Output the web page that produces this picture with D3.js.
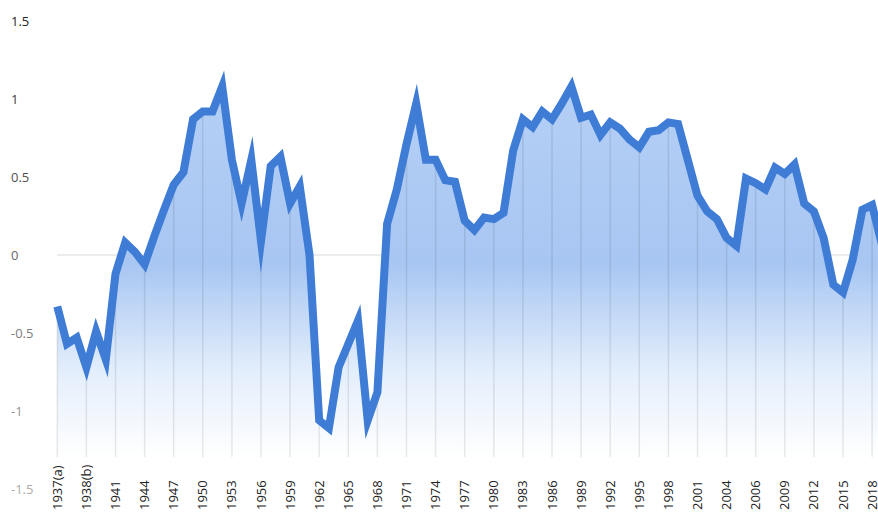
<!DOCTYPE html>
<html>
<head>
<meta charset="utf-8">
<script src="https://cdn.jsdelivr.net/npm/d3@7"></script>
<style>
  body { margin: 0; background: #fff; }
  svg { display: block; font-family: "Open Sans", sans-serif; }
</style>
</head>
<body>
<div class="canvas"></div>
<script>
// Data
const years = [
  '1937(a)', '1937(b)', '1938(a)', '1938(b)', '1939', '1940', '1941', '1942', '1943', '1944',
  '1945', '1946', '1947', '1948', '1949', '1950', '1951', '1952', '1953', '1954',
  '1955', '1956', '1957', '1958', '1959', '1960', '1961', '1962', '1963', '1964',
  '1965', '1966', '1967', '1968', '1969', '1970', '1971', '1972', '1973', '1974',
  '1975', '1976', '1977', '1978', '1979', '1980', '1981', '1982', '1983', '1984',
  '1985', '1986', '1987', '1988', '1989', '1990', '1991', '1992', '1993', '1994',
  '1995', '1996', '1997', '1998', '1999', '2000', '2001', '2002', '2003', '2004',
  '2005(a)', '2005(b)', '2006', '2007', '2008', '2009', '2010', '2011', '2012', '2013',
  '2014', '2015', '2016', '2017', '2018', '2019'
];
const values = [
  -0.33, -0.57, -0.53, -0.72, -0.49, -0.67, -0.12, 0.08, 0.02, -0.06,
  0.12, 0.29, 0.45, 0.53, 0.87, 0.92, 0.92, 1.08, 0.61, 0.33,
  0.61, 0.09, 0.57, 0.63, 0.33, 0.44, 0.0, -1.06, -1.11, -0.72,
  -0.57, -0.42, -1.06, -0.88, 0.2, 0.42, 0.71, 0.97, 0.61, 0.61,
  0.48, 0.47, 0.22, 0.16, 0.24, 0.23, 0.27, 0.67, 0.87, 0.82,
  0.92, 0.87, 0.97, 1.08, 0.88, 0.90, 0.77, 0.85, 0.81, 0.74,
  0.69, 0.79, 0.80, 0.85, 0.84, 0.61, 0.38, 0.28, 0.23, 0.11,
  0.06, 0.49, 0.46, 0.42, 0.56, 0.52, 0.58, 0.33, 0.28, 0.11,
  -0.19, -0.24, -0.03, 0.29, 0.32, 0.07
];
const yTicks = [1.5, 1, 0.5, 0, -0.5, -1, -1.5];
const tickLabels = years.filter((d, i) => i % 3 === 0 && i < 85);

const data = years.map((y, i) => ({ year: y, value: values[i] }));

// Layout
const width = 878, height = 514;
const baseY = 457;

const svg = d3.select('.canvas')
    .append('svg')
    .attr('width', width)
    .attr('height', height);

const x = d3.scalePoint()
    .domain(years)
    .range([57.3, 57.3 + 9.7 * (years.length - 1)]);

const y = d3.scaleLinear()
    .domain([-1.5, 1.5])
    .range([489, 21]);

// gradient for the area
const defs = svg.append('defs');
const grad = defs.append('linearGradient')
    .attr('id', 'fillGrad')
    .attr('gradientUnits', 'userSpaceOnUse')
    .attr('x1', 0).attr('x2', 0)
    .attr('y1', 80).attr('y2', baseY);
grad.append('stop').attr('offset', 0).attr('stop-color', '#b5d0f6');
grad.append('stop').attr('offset', 0.49).attr('stop-color', '#a8c6f2');
grad.append('stop').attr('offset', 0.6).attr('stop-color', '#bfd6f6');
grad.append('stop').attr('offset', 0.77).attr('stop-color', '#e3eefc');
grad.append('stop').attr('offset', 1).attr('stop-color', '#ffffff');

// zero line
svg.append('line')
    .attr('x1', x(years[0])).attr('x2', width)
    .attr('y1', y(0)).attr('y2', y(0))
    .attr('stroke', '#e6e6e6')
    .attr('stroke-width', 1.5);

// area
const area = d3.area()
    .x(d => x(d.year))
    .y0(baseY)
    .y1(d => y(d.value));

svg.append('path')
    .datum(data)
    .attr('d', area)
    .attr('fill', 'url(#fillGrad)');

// drop lines at labelled years
svg.selectAll('line.drop')
    .data(data.filter(d => tickLabels.includes(d.year)))
    .enter().append('line')
    .attr('class', 'drop')
    .attr('x1', d => x(d.year)).attr('x2', d => x(d.year))
    .attr('y1', d => y(d.value)).attr('y2', baseY)
    .attr('stroke', 'rgba(0,0,0,0.09)')
    .attr('stroke-width', 1.5);

// line
const line = d3.line()
    .x(d => x(d.year))
    .y(d => y(d.value));

svg.append('path')
    .datum(data)
    .attr('d', line)
    .attr('fill', 'none')
    .attr('stroke', '#3e7cd5')
    .attr('stroke-width', 8)
    .attr('stroke-linejoin', 'miter')
    .attr('stroke-miterlimit', 10);

// y labels, fading toward the bottom
const shade = d3.scaleLinear().domain([1.5, -1.5]).range(['#222', '#ababab']);
svg.selectAll('text.ylab')
    .data(yTicks)
    .enter().append('text')
    .attr('class', 'ylab')
    .attr('x', 11)
    .attr('y', d => y(d))
    .attr('dy', '0.35em')
    .attr('font-size', 13)
    .attr('fill', d => shade(d))
    .text(d => d);

// x labels
svg.selectAll('text.xlab')
    .data(tickLabels)
    .enter().append('text')
    .attr('class', 'xlab')
    .attr('transform', d => 'translate(' + x(d) + ',510)rotate(-90)')
    .attr('dy', '0.35em')
    .attr('text-anchor', 'start')
    .attr('font-size', 13)
    .attr('fill', '#222')
    .text(d => d);
</script>
</body>
</html>
